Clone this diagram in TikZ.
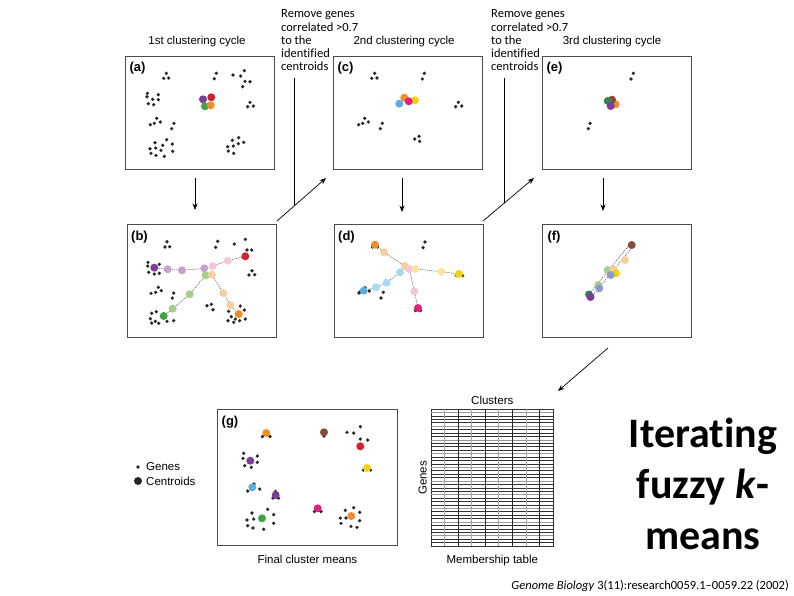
\documentclass[tikz,border=0pt]{standalone}
\usepackage{fontspec}
\setmainfont{Liberation Sans}
\newfontfamily\calibfont[Ligatures={TeX,NoCommon}]{Carlito}
\usetikzlibrary{arrows.meta,positioning}

\definecolor{cPurple}{HTML}{7E3C96}
\definecolor{cRed}{HTML}{D12230}
\definecolor{cGreen}{HTML}{3FA348}
\definecolor{cDkGreen}{HTML}{2E8555}
\definecolor{cOrange}{HTML}{F08C2A}
\definecolor{cBlue}{HTML}{5AAEE0}
\definecolor{cMagenta}{HTML}{E0207F}
\definecolor{cYellow}{HTML}{F5D10C}
\definecolor{cBrown}{HTML}{8B4A35}
\definecolor{cLtPurple}{HTML}{C7A0CC}
\definecolor{cLtPink}{HTML}{F3C6DB}
\definecolor{cLtGreen}{HTML}{A8CF8A}
\definecolor{cLtOrange}{HTML}{F8CFA0}
\definecolor{cLtBlue}{HTML}{A9D8F2}
\definecolor{cLtYellow}{HTML}{FBE3A0}
\definecolor{cBlueGray}{HTML}{8A9CCB}

\newcommand\genes[1]{\foreach \gx/\gy in {#1} \fill[gene] (\gx,\gy) circle (1.8pt);}
\newcommand\centroid[3]{\fill[#1] (#2,#3) circle (4pt);}

\begin{document}
\begin{tikzpicture}[x=1pt,y=-1pt,
  panel/.style={draw=black!70,line width=0.8pt,inner sep=0pt,anchor=north west,
    minimum width=149pt,minimum height=113pt},
  lbl/.style={font=\bfseries\fontsize{13}{15}\selectfont,inner sep=0pt},
  ttl/.style={font=\fontsize{11.5}{13}\selectfont,inner sep=0pt},
  note/.style={font=\calibfont\fontsize{12.5}{13.3}\selectfont,align=left,inner sep=0pt,anchor=north west},
  arr/.style={-{Stealth[length=6.5pt,width=5pt]},line width=0.7pt},
  gene/.style={fill=black!85},
  link/.style={dash pattern=on 1.2pt off 1pt,line width=0.5pt,black!70}]
  \useasboundingbox (0,0) rectangle (794,595);

  \node[panel] (pa) at (125,56) {};
  \node[panel] (pc) at (333,56) {};
  \node[panel] (pe) at (542,56) {};
  \node[panel] (pb) at (127,224) {};
  \node[panel] (pd) at (334,224) {};
  \node[panel] (pf) at (542,224) {};
  \node[panel,minimum width=180pt,minimum height=136pt] (pg) at (217,409) {};

  \node[ttl] (ta) at (197,42) {1st clustering cycle};
  \node[ttl] (tc) at (404,42) {2nd clustering cycle};
  \node[ttl] (te) at (612,42) {3rd clustering cycle};

  \node[note] (rmA) at (281,9.5) {Remove genes\\correlated >0.7\\to the\\identified\\centroids};
  \node[note] (rmB) at (491,9.5) {Remove genes\\correlated >0.7\\to the\\identified\\centroids};

  \coordinate (ab1) at (195,178);  \coordinate (ab2) at (195,210);
  \coordinate (cd1) at (402,178);  \coordinate (cd2) at (402,212);
  \coordinate (ef1) at (603,178);  \coordinate (ef2) at (603,211);
  \coordinate (bc1) at (277,221);  \coordinate (bc2) at (326,178);
  \coordinate (de1) at (483,221);  \coordinate (de2) at (534,178);
  \coordinate (rA1) at (294,78);   \coordinate (rA2) at (294,206);
  \coordinate (rB1) at (504,78);   \coordinate (rB2) at (504,203);
  \coordinate (fg1) at (608,348);  \coordinate (fg2) at (558,391);
  \draw[arr] (ab1) -- (ab2);
  \draw[arr] (cd1) -- (cd2);
  \draw[arr] (ef1) -- (ef2);
  \draw[arr] (bc1) -- (bc2);
  \draw[arr] (de1) -- (de2);
  \draw[arr] (fg1) -- (fg2);
  \draw[line width=0.7pt] (rA1) -- (rA2);
  \draw[line width=0.7pt] (rB1) -- (rB2);

  \begin{scope}[shift={(pa.north west)}]
    \node[lbl] (la) at (12.5,12.5) {(a)};
    \genes{41.3/17.3,38.7/22.3,43.7/22,91.3/17.3,89.3/22.7,108/19,115.7/20,119.3/14.7,120/25.3,125/25.7,117.7/30.7,
      22.3/37.3,22/40.7,27.7/43.3,33.3/38.7,33.3/43.7,23.3/47.7,28.7/48.7,125/46.3,122.7/50.7,128.3/50,
      31.7/62.3,25.3/68.7,29.3/67.3,35.3/66,49/67.3,46.7/72.7,41.7/83.7,30/86.7,37.7/89.3,47.3/88,25/92.7,
      30.7/92,36/94.3,47.7/95.3,26/97.3,31/99.3,39.3/100.3,113.7/81.7,107.3/84.3,118.7/86.3,102.7/90.7,
      108.3/90,113.3/87.7,103.3/95,108.7/97.3}
    \centroid{cPurple}{78}{43.3}
    \centroid{cRed}{86.3}{41.3}
    \centroid{cGreen}{80}{50.3}
    \centroid{cOrange}{85.7}{49.3}
  \end{scope}

  \begin{scope}[shift={(pc.north west)}]
    \node[lbl] (lc) at (12.5,12.5) {(c)};
    \genes{41.7/17.3,38.7/22.3,44/22,91.3/17.3,89.3/23,125.3/46.3,122.7/50.7,128.7/50,31.7/62.3,25.7/68.7,
      29.7/67.3,35.3/66,49.3/67.3,47.3/72.7,86/80.3,81.7/83,86.7/85.3}
    \centroid{cOrange}{71.3}{41.7}
    \centroid{cYellow}{82}{44.3}
    \centroid{cMagenta}{75.7}{45.3}
    \centroid{cBlue}{66.3}{47.7}
  \end{scope}

  \begin{scope}[shift={(pe.north west)}]
    \node[lbl] (le) at (12.5,12.5) {(e)};
    \genes{91.3/17.3,89/23,48/67.3,46.3/72.7}
    \centroid{cOrange}{73.7}{48.3}
    \centroid{cBrown}{70}{43.7}
    \centroid{cDkGreen}{65.7}{45}
    \centroid{cPurple}{68.7}{50}
  \end{scope}

  \begin{scope}[shift={(pb.north west)}]
    \node[lbl] (lb) at (12.5,13.5) {(b)};
    \genes{40/17.7,38/23,42.7/22.7,90.7/17.3,88.7/23.3,107.3/20,118.3/15.3,120/26,124.7/26,125/46.7,122/51,
      127.7/50.7,21/38.3,20.7/42,32.3/40.3,21.7/48.3,27.3/50,32.3/49.3,31.3/63.3,24/69.3,28.7/68.3,34.3/66.7,
      46.7/69,45.3/74,24.7/89.3,29.3/87.7,23.3/94.7,28.3/97.3,31.7/99.3,40/97.3,46.7/96.7,24.7/99,80/81.7,
      84.3/80.3,86/85.7,113.3/82,117.3/86,101.7/87.3,104.3/92.7,108.3/95,112.7/96.7,118.3/95,101/96.7,106.7/98.3}
    \draw[link] (27.3,43.7) -- (40.7,45.3) -- (55,46.3) -- (77.3,44.3) -- (85.7,42) -- (100.7,36.7) -- (118.3,32.3);
    \draw[link] (78.7,51.3) -- (62.7,70.3) -- (45.7,84.7) -- (36.7,92);
    \draw[link] (85,50.7) -- (96.3,69) -- (103.3,81) -- (111.7,90);
    \centroid{cPurple}{27.3}{43.7}
    \centroid{cLtPurple}{40.7}{45.3}
    \centroid{cLtPurple}{55}{46.3}
    \centroid{cLtPurple}{77.3}{44.3}
    \centroid{cLtPink}{85.7}{42}
    \centroid{cLtPink}{100.7}{36.7}
    \centroid{cRed}{118.3}{32.3}
    \centroid{cLtGreen}{78.7}{51.3}
    \centroid{cLtGreen}{62.7}{70.3}
    \centroid{cLtGreen}{45.7}{84.7}
    \centroid{cGreen}{36.7}{92}
    \centroid{cLtOrange}{85}{50.7}
    \centroid{cLtOrange}{96.3}{69}
    \centroid{cLtOrange}{103.3}{81}
    \centroid{cOrange}{111.7}{90}
  \end{scope}

  \begin{scope}[shift={(pd.north west)}]
    \node[lbl] (ld) at (12.5,13.5) {(d)};
    \genes{91/18,89/23.7,31/63.7,25/69,35.3/67,49.3/68.3,47/74,38.5/23,43.5/23,122.5/51.5,128.5/51.5,
      81.5/86.5,86.5/86.5,26/68}
    \draw[link] (41,20.7) -- (50,28.3) -- (70.7,42) -- (75.3,45) -- (81.7,45) -- (107.3,47.7) -- (125,50);
    \draw[link] (29.7,66.7) -- (42,63.3) -- (52.7,58.7) -- (66,48.3) -- (70.7,42);
    \draw[link] (75.3,45) -- (80.3,67.3) -- (84,84);
    \centroid{cOrange}{41}{20.7}
    \centroid{cLtOrange}{50}{28.3}
    \centroid{cLtOrange}{70.7}{42}
    \centroid{cLtPink}{75.3}{45}
    \centroid{cLtYellow}{81.7}{45}
    \centroid{cLtYellow}{107.3}{47.7}
    \centroid{cYellow}{125}{50}
    \centroid{cLtBlue}{66}{48.3}
    \centroid{cLtBlue}{52.7}{58.7}
    \centroid{cLtBlue}{42}{63.3}
    \centroid{cBlue}{29.7}{66.7}
    \centroid{cLtPink}{80.3}{67.3}
    \centroid{cMagenta}{84}{84}
  \end{scope}

  \begin{scope}[shift={(pf.north west)}]
    \node[lbl] (lf) at (12,13.5) {(f)};
    \draw[link] (46.5,71) -- (88,20);
    \draw[link] (49.5,73) -- (91.3,22);
    \centroid{cBrown}{89.7}{21}
    \centroid{cLtOrange}{83}{36}
    \centroid{cLtGreen}{65.7}{46}
    \centroid{cLtOrange}{71.3}{45.3}
    \centroid{cYellow}{74}{49.3}
    \centroid{cBlueGray}{68.7}{51}
    \centroid{cLtGreen}{56.3}{61}
    \centroid{cBlueGray}{57.3}{64.3}
    \centroid{cDkGreen}{47}{70.5}
    \centroid{cPurple}{48.5}{73}
  \end{scope}

  \begin{scope}[shift={(pg.north west)}]
    \node[lbl] (lg) at (13,13) {(g)};
    \genes{130/23.3,136.7/24,143.3/17.7,143.3/30,150.7/31,26.7/44.3,26/49.3,40.3/47,40.3/53.3,27.7/56.7,
      34.3/58.3,42.7/80,30.7/82,35/104,50.7/100.3,56.7/105.7,30/111,36.7/110,56.7/114.3,30.7/116.7,36/119,
      46.7/120.3,128.3/101.3,136.7/98.7,142.7/103.3,123.3/109,129/109,142.7/111.7,124/114.3,134/117.3,140/118.3,
      45.5/27.5,53/27.5,107/27,146.5/61,153.5/61,97.5/102.5,104/102.5,56/89,61.5/89,58.5/82.5,37/75}
    \centroid{cOrange}{49.3}{24}
    \centroid{cBrown}{107}{23.3}
    \centroid{cRed}{143.3}{37.3}
    \centroid{cPurple}{33.3}{51.7}
    \centroid{cYellow}{150}{59}
    \centroid{cBlue}{35.3}{78.3}
    \centroid{cPurple}{58.7}{86}
    \centroid{cMagenta}{100.7}{99.3}
    \centroid{cGreen}{45}{109.3}
    \centroid{cOrange}{134.3}{107}
  \end{scope}
  \node[ttl,below=9pt of pg] (fcm) {Final cluster means};

  \fill[gene] (138,467) circle (1.8pt);
  \node[ttl,anchor=west] (lgGenes) at (146,467) {Genes};
  \fill[gene] (138,481) circle (4pt);
  \node[ttl,anchor=west] (lgCent) at (146,481) {Centroids};

  \node[draw=black!80,line width=0.6pt,inner sep=0pt,anchor=north west,minimum width=122pt,
    minimum height=137pt] (tbl) at (431,409) {};
  \begin{scope}[shift={(tbl.north west)}]
    \foreach \r in {1,...,39} {
      \pgfmathsetmacro\tone{mod(\r,4)==1 ? 40 : 80}
      \draw[line width=0.55pt,black!\tone] (0,\r*3.425) -- (122,\r*3.425);
    }
    \foreach \c in {1,...,8} {
      \pgfmathsetmacro\tone{isodd(\c) ? 35 : 85}
      \draw[line width=0.7pt,black!\tone] (\c*13.556,0) -- (\c*13.556,137);
    }
  \end{scope}
  \node[ttl,above=4pt of tbl] (tClu) {Clusters};
  \node[ttl,left=4pt of tbl,rotate=90,anchor=south] (tGen) {Genes};
  \node[ttl,below=8pt of tbl] (tMem) {Membership table};

  \node[font=\calibfont\bfseries\fontsize{42}{51}\selectfont,align=center,inner sep=0pt] (ttlBig) at (703,484)
    {Iterating\\fuzzy \textit{k}-\\means};
  \node[font=\calibfont\fontsize{12.5}{13}\selectfont,anchor=base east,inner sep=0pt] (cite) at (789,589)
    {\textit{Genome Biology} 3(11):research0059.1–0059.22 (2002)};
\end{tikzpicture}
\end{document}
